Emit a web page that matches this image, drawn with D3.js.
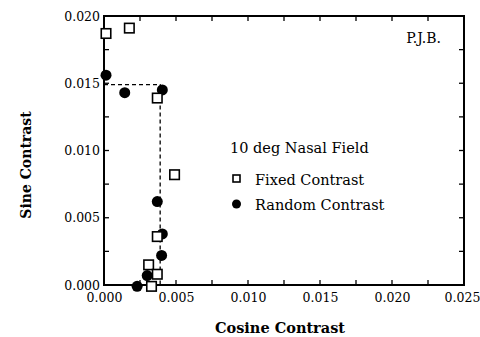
<!DOCTYPE html>
<html><head><meta charset="utf-8">
<script src="https://cdn.jsdelivr.net/npm/d3@7"></script>
<style>body{margin:0;background:#fff}svg{display:block}</style>
</head><body>
<script>
const fixedX = [0.00014, 0.00176, 0.0037, 0.0049, 0.0037, 0.0031, 0.0037, 0.0033];
const fixedY = [0.0187, 0.0191, 0.0139, 0.0082, 0.0036, 0.0015, 0.0008, -0.0001];
const randomX = [0.00014, 0.00144, 0.00405, 0.0037, 0.00405, 0.0040, 0.0030, 0.0023];
const randomY = [0.0156, 0.0143, 0.0145, 0.0062, 0.0038, 0.0022, 0.0007, -0.0001];
const guideX = [0, 0.0039, 0.0039];
const guideY = [0.0149, 0.0149, 0.0];
const xTicks = [0, 0.005, 0.010, 0.015, 0.020, 0.025];
const yTicks = [0, 0.005, 0.010, 0.015, 0.020];
const minorTicks = [0.0025, 0.0075, 0.0125, 0.0175, 0.0225];

const W = 480, H = 337;
const m = {l: 104, r: 16, t: 16, b: 52};
const svg = d3.select("body").append("svg").attr("width", W).attr("height", H);
const x = d3.scaleLinear().domain([0, 0.025]).range([m.l, W - m.r]);
const y = d3.scaleLinear().domain([0, 0.020]).range([H - m.b, m.t]);
const font = "DejaVu Serif";
const fmt = d3.format(".3f");

const bx = d3.axisBottom(x).tickValues(xTicks).tickFormat(fmt).tickSize(0).tickPadding(8);
const ly = d3.axisLeft(y).tickValues(yTicks).tickFormat(fmt).tickSize(0).tickPadding(4);
const gx = svg.append("g").attr("transform", `translate(0,${H - m.b})`).call(bx);
const gy = svg.append("g").attr("transform", `translate(${m.l},0)`).call(ly);
[gx, gy].forEach(a => {
  a.select(".domain").remove();
  a.selectAll("text").attr("font-family", font).attr("font-size", 12.5).attr("fill", "#000");
});
gx.selectAll("text").filter(d => d === 0.025).attr("dx", -2);

const xt = xTicks.concat(minorTicks.filter(v => v < 0.025));
const yt = yTicks.concat(minorTicks.filter(v => v < 0.02));
const tk = svg.append("g").attr("stroke", "#000").attr("stroke-width", 1.3);
xt.forEach(v => {
  tk.append("line").attr("x1", x(v)).attr("x2", x(v)).attr("y1", y(0)).attr("y2", y(0) - 5);
  tk.append("line").attr("x1", x(v)).attr("x2", x(v)).attr("y1", y(0.02)).attr("y2", y(0.02) + 5);
});
yt.forEach(v => {
  tk.append("line").attr("x1", x(0)).attr("x2", x(0) + 5).attr("y1", y(v)).attr("y2", y(v));
  tk.append("line").attr("x1", x(0.025)).attr("x2", x(0.025) - 5).attr("y1", y(v)).attr("y2", y(v));
});

svg.append("rect").attr("x", x(0)).attr("y", y(0.02)).attr("width", x(0.025) - x(0)).attr("height", y(0) - y(0.02))
  .attr("fill", "none").attr("stroke", "#000").attr("stroke-width", 2);

svg.append("path").datum(d3.zip(guideX, guideY))
  .attr("d", d3.line().x(d => x(d[0])).y(d => y(d[1])))
  .attr("fill", "none").attr("stroke", "#000").attr("stroke-width", 1.3).attr("stroke-dasharray", "4,3");

svg.append("g").selectAll("circle").data(d3.zip(randomX, randomY)).join("circle")
  .attr("cx", d => x(d[0])).attr("cy", d => y(d[1])).attr("r", 5.5).attr("fill", "#000");

const s = 9.5;
svg.append("g").selectAll("rect").data(d3.zip(fixedX, fixedY)).join("rect")
  .attr("x", d => x(d[0]) - s / 2).attr("y", d => y(d[1]) - s / 2).attr("width", s).attr("height", s)
  .attr("fill", "#fff").attr("stroke", "#000").attr("stroke-width", 1.6);

svg.append("text").attr("x", 441).attr("y", 43).attr("text-anchor", "end")
  .attr("font-family", font).attr("font-size", 14).text("P.J.B.");

svg.append("text").attr("x", 230).attr("y", 153).attr("font-family", font).attr("font-size", 14.5).text("10 deg Nasal Field");
svg.append("rect").attr("x", 233).attr("y", 175).attr("width", 7).attr("height", 7)
  .attr("fill", "#fff").attr("stroke", "#000").attr("stroke-width", 1.6);
svg.append("text").attr("x", 255).attr("y", 185).attr("font-family", font).attr("font-size", 14.5).text("Fixed Contrast");
svg.append("circle").attr("cx", 236.5).attr("cy", 204).attr("r", 4.5).attr("fill", "#000");
svg.append("text").attr("x", 255).attr("y", 210).attr("font-family", font).attr("font-size", 14.5).text("Random Contrast");

svg.append("text").attr("x", 280).attr("y", 333).attr("text-anchor", "middle")
  .attr("font-family", font).attr("font-weight", "bold").attr("font-size", 14.5).text("Cosine Contrast");
svg.append("text").attr("transform", "translate(31,165) rotate(-90)").attr("text-anchor", "middle")
  .attr("font-family", font).attr("font-weight", "bold").attr("font-size", 14).text("Sine Contrast");
</script>
</body></html>
